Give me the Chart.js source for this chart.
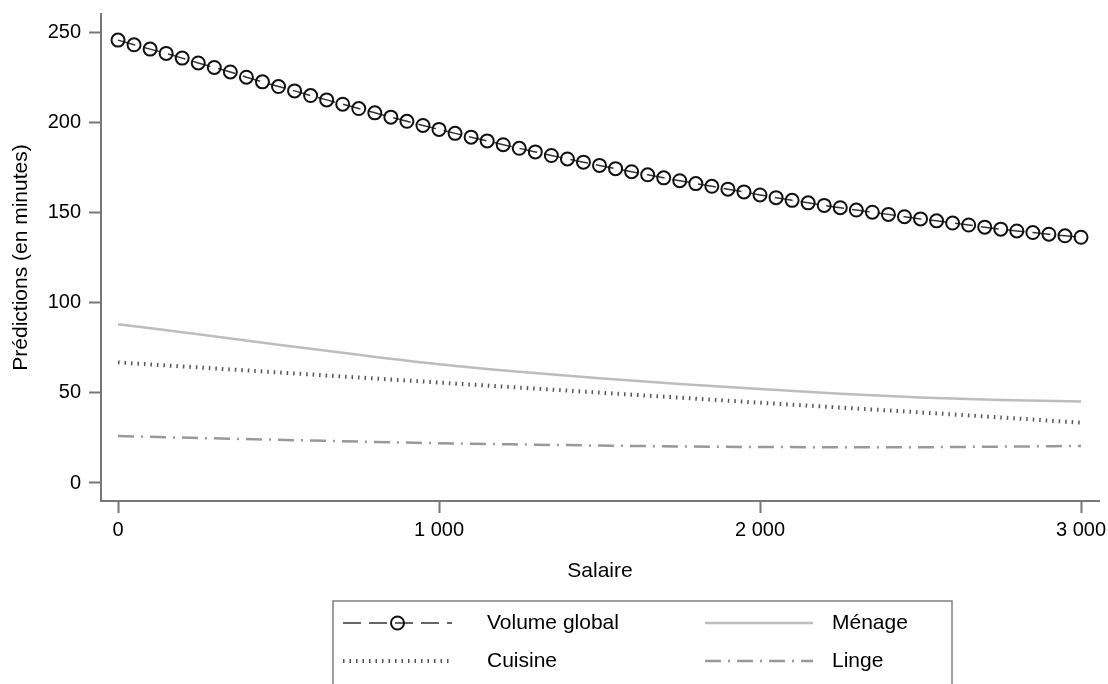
<!DOCTYPE html>
<html><head><meta charset="utf-8">
<script src="https://cdn.jsdelivr.net/npm/chart.js@4.4.0/dist/chart.umd.min.js"></script>
<style>html,body{margin:0;padding:0;background:#fff}#wrap{width:1108px;height:684px}</style>
</head><body><div id="wrap"><canvas id="c" width="1108" height="684"></canvas></div>
<script>
const salaireVG = [0,50,100,150,200,250,300,350,400,450,500,550,600,650,700,750,800,850,900,950,
  1000,1050,1100,1150,1200,1250,1300,1350,1400,1450,1500,1550,1600,1650,1700,1750,1800,1850,1900,1950,
  2000,2050,2100,2150,2200,2250,2300,2350,2400,2450,2500,2550,2600,2650,2700,2750,2800,2850,2900,2950,3000];
const volumeGlobal = [246.0,243.4,241.0,238.6,236.0,233.3,230.8,228.3,225.4,222.8,
  220.2,217.8,215.2,212.8,210.4,208.0,205.6,203.2,200.9,198.6,
  196.4,194.2,192.1,190.0,187.9,185.9,183.9,181.9,180.0,178.2,
  176.4,174.6,172.9,171.2,169.5,167.9,166.3,164.8,163.2,161.7,
  160.0,158.5,157.0,155.6,154.2,152.9,151.6,150.4,149.2,147.9,
  146.7,145.6,144.4,143.3,142.1,141.0,140.0,139.1,138.2,137.3,136.5];
const salaireLignes = [0,250,500,750,1000,1250,1500,1750,2000,2250,2500,2750,3000];
const menage  = [88.2,82.6,76.8,71.2,66.0,61.8,58.2,55.0,52.2,49.6,47.5,46.1,45.2];
const cuisine = [67.0,64.2,61.4,58.6,55.8,53.0,50.2,47.4,44.6,41.9,39.2,36.4,33.5];
const linge   = [26.1,25.0,24.0,23.0,22.1,21.4,20.8,20.3,20.0,19.9,19.9,20.2,20.6];
const xTickValues = [0,1000,2000,3000];
const xTickLabels = ['0','1 000','2 000','3 000'];
const yTickValues = [0,50,100,150,200,250];
const seriesLabels = ['Volume global','Ménage','Cuisine','Linge'];

const FONT = 'Liberation Sans, Arial, sans-serif';
Chart.defaults.font.family = FONT;
Chart.defaults.font.size = 20;
Chart.defaults.color = '#000';

const zip = (xs, ys) => xs.map((x, i) => ({x: x, y: ys[i]}));
const AXIS = '#777';

const legendPlugin = {
  id: 'stataLegend',
  afterDraw(chart) {
    const ctx = chart.ctx;
    const box = {left: 333, top: 601, right: 952, bottom: 720};
    ctx.save();
    ctx.strokeStyle = '#808080';
    ctx.lineWidth = 1.5;
    ctx.setLineDash([]);
    ctx.strokeRect(box.left, box.top, box.right - box.left, box.bottom - box.top);
    const cols = [{x0: 343, x1: 452, tx: 487}, {x0: 705, x1: 813, tx: 832}];
    const rows = [623, 661];
    const place = [[0,0],[1,0],[0,1],[1,1]]; // [col,row] for datasets 0..3
    chart.data.datasets.forEach((ds, i) => {
      const c = cols[place[i][0]], y = rows[place[i][1]];
      ctx.save();
      ctx.strokeStyle = ds.borderColor;
      ctx.lineWidth = ds.borderWidth;
      ctx.setLineDash(ds.borderDash || []);
      ctx.beginPath(); ctx.moveTo(c.x0, y); ctx.lineTo(c.x1, y); ctx.stroke();
      if (ds.pointRadius > 0) {
        ctx.setLineDash([]);
        ctx.lineWidth = ds.pointBorderWidth;
        ctx.strokeStyle = ds.pointBorderColor;
        ctx.beginPath(); ctx.arc((c.x0 + c.x1) / 2, y, ds.pointRadius, 0, Math.PI * 2); ctx.stroke();
      }
      ctx.restore();
      ctx.fillStyle = '#000';
      ctx.font = '21px ' + FONT;
      ctx.textBaseline = 'middle';
      ctx.textAlign = 'left';
      ctx.fillText(ds.label, c.tx, y);
    });
    ctx.restore();
  }
};

new Chart(document.getElementById('c'), {
  type: 'line',
  data: {
    datasets: [
      {label: seriesLabels[0], data: zip(salaireVG, volumeGlobal), borderColor: '#333', borderWidth: 1.5,
       borderDash: [18, 8], pointRadius: 6.5, pointBorderWidth: 2, pointBorderColor: '#111',
       pointBackgroundColor: 'rgba(0,0,0,0)', fill: false, tension: 0},
      {label: seriesLabels[1], data: zip(salaireLignes, menage), borderColor: '#bdbdbd', borderWidth: 2.5,
       pointRadius: 0, fill: false, cubicInterpolationMode: 'monotone'},
      {label: seriesLabels[2], data: zip(salaireLignes, cuisine), borderColor: '#555', borderWidth: 4,
       borderDash: [1.5, 5], pointRadius: 0, fill: false, cubicInterpolationMode: 'monotone'},
      {label: seriesLabels[3], data: zip(salaireLignes, linge), borderColor: '#999', borderWidth: 2.5,
       borderDash: [16, 7, 2, 7], pointRadius: 0, fill: false, cubicInterpolationMode: 'monotone'}
    ]
  },
  options: {
    responsive: false, animation: false, devicePixelRatio: 1,
    layout: {padding: {left: 0, top: 14, right: 9, bottom: 100}},
    plugins: {legend: {display: false}, tooltip: {enabled: false}},
    scales: {
      x: {
        type: 'linear', min: -53, max: 3056,
        afterBuildTicks: s => { s.ticks = xTickValues.map(v => ({value: v})); },
        ticks: {callback: (v, i) => xTickLabels[i], padding: 5, maxRotation: 0, autoSkip: false, color: '#000'},
        grid: {drawOnChartArea: false, tickLength: 12, tickWidth: 2, tickColor: AXIS},
        border: {color: AXIS, width: 2},
        title: {display: true, text: 'Salaire', color: '#000', padding: 0, font: {size: 21}},
        afterFit: s => { s.height = 83; s.paddingLeft = 0; s.paddingRight = 0; }
      },
      y: {
        type: 'linear', min: -10, max: 260.5,
        afterBuildTicks: s => { s.ticks = yTickValues.map(v => ({value: v})); },
        ticks: {padding: 8, color: '#000'},
        grid: {drawOnChartArea: false, tickLength: 12, tickWidth: 2, tickColor: AXIS},
        border: {color: AXIS, width: 2},
        title: {display: true, text: 'Prédictions (en minutes)', color: '#000', padding: {top: 9, bottom: 0}, font: {size: 21}},
        afterFit: s => { s.width = 101; s.paddingTop = 0; s.paddingBottom = 0; }
      }
    }
  },
  plugins: [legendPlugin]
});
</script></body></html>
